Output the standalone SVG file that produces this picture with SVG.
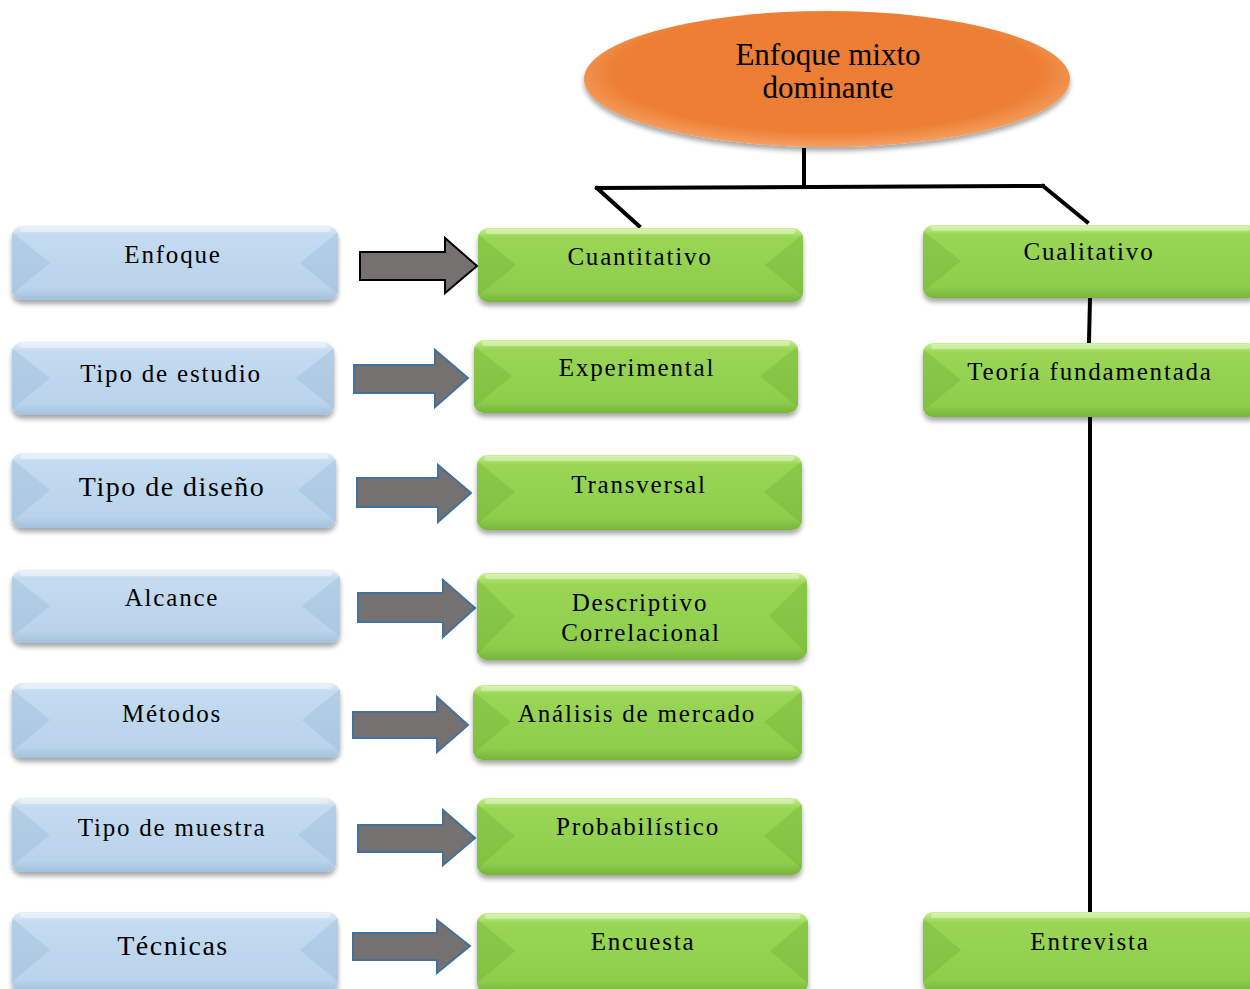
<svg xmlns="http://www.w3.org/2000/svg" width="1250" height="989" viewBox="0 0 1250 989">
  <style>
    text { font-family: "Liberation Serif", "Times New Roman", serif; fill: #000; text-anchor: middle; }
    .lbl { font-size: 25px; letter-spacing: 1.8px; }
    .big { font-size: 28px; letter-spacing: 1.5px; }
    .title { font-size: 31px; }
    .bbase { fill: url(#gBlue); filter: url(#shadow); }
    .gbase { fill: url(#gGreen); filter: url(#shadow); }
    .bside { fill: #8fb0d0; opacity: 0.3; }
    .gside { fill: #5f9f28; opacity: 0.25; }
    .hi { fill: #ffffff; opacity: 0.35; }
    .link { stroke: #000; stroke-width: 4; fill: none; stroke-linecap: square; }
    .arr1 { fill: #767171; stroke: #000; stroke-width: 2; }
    .arr { fill: #767171; stroke: #41719c; stroke-width: 2; }
  </style>
  <defs>
    <filter id="shadow" x="-10%" y="-20%" width="120%" height="160%">
      <feGaussianBlur in="SourceAlpha" stdDeviation="2.5"/>
      <feOffset dx="0" dy="4" result="b"/>
      <feComponentTransfer><feFuncA type="linear" slope="0.35"/></feComponentTransfer>
      <feMerge><feMergeNode/><feMergeNode in="SourceGraphic"/></feMerge>
    </filter>
    <linearGradient id="gBlue" x1="0" y1="0" x2="0" y2="1">
      <stop offset="0" stop-color="#e3eef8"/>
      <stop offset="0.12" stop-color="#c4dbf0"/>
      <stop offset="0.85" stop-color="#bad3eb"/>
      <stop offset="1" stop-color="#a3c0dc"/>
    </linearGradient>
    <linearGradient id="gGreen" x1="0" y1="0" x2="0" y2="1">
      <stop offset="0" stop-color="#c6f08e"/>
      <stop offset="0.13" stop-color="#99d655"/>
      <stop offset="0.85" stop-color="#8ecd4c"/>
      <stop offset="1" stop-color="#76b43a"/>
    </linearGradient>
    <radialGradient id="gOrange" cx="0.5" cy="0.45" r="0.55">
      <stop offset="0" stop-color="#ec7d33"/>
      <stop offset="0.8" stop-color="#ed7f34"/>
      <stop offset="1" stop-color="#f4a061"/>
    </radialGradient>
  </defs>

  <!-- connectors: tree lines and block arrows -->
  <g id="connectors">
    <path class="link" d="M804,150 V186 M597,188 L1043,186 M597,188 L639,226 M1043,186 L1087,222"/>
    <path class="link" d="M1090,299 L1089,341 M1090,418 V910"/>
    <polygon class="arr1" points="360,252 445,252 445,238 477,266 445,293 445,280 360,280"/>
    <polygon class="arr" points="354,365 435,365 435,350 468,378 435,407 435,393 354,393"/>
    <polygon class="arr" points="357,478 438,478 438,465 471,493 438,522 438,507 357,507"/>
    <polygon class="arr" points="358,593 443,593 443,580 475,608 443,637 443,622 358,622"/>
    <polygon class="arr" points="353,712 437,712 437,697 468,725 437,752 437,738 353,738"/>
    <polygon class="arr" points="358,825 443,825 443,810 475,838 443,865 443,852 358,852"/>
    <polygon class="arr" points="353,933 437,933 437,920 470,946 437,973 437,960 353,960"/>
  </g>

  <!-- root -->
  <g id="root">
    <ellipse cx="827" cy="79" rx="243" ry="68" fill="url(#gOrange)" filter="url(#shadow)"/>
    <text class="title" x="828" y="65">Enfoque mixto</text>
    <text class="title" x="828" y="98">dominante</text>
  </g>

  <!-- left column -->
  <g id="enfoque">
    <rect class="bbase" x="12" y="226" width="326" height="74" rx="10"/>
    <path class="bside" d="M12,232 L50,263 L12,294 Z M338,232 L300,263 L338,294 Z"/>
    <rect class="hi" x="20" y="227" width="310" height="5" rx="2"/>
    <text class="lbl" x="173" y="263">Enfoque</text>
  </g>
  <g id="tipo-estudio">
    <rect class="bbase" x="12" y="342" width="322" height="73" rx="10"/>
    <path class="bside" d="M12,348 L50,378 L12,409 Z M334,348 L296,378 L334,409 Z"/>
    <rect class="hi" x="20" y="343" width="306" height="5" rx="2"/>
    <text class="lbl" x="171" y="382">Tipo de estudio</text>
  </g>
  <g id="tipo-diseno">
    <rect class="bbase" x="12" y="453" width="324" height="75" rx="10"/>
    <path class="bside" d="M12,459 L50,490 L12,522 Z M336,459 L298,490 L336,522 Z"/>
    <rect class="hi" x="20" y="454" width="308" height="5" rx="2"/>
    <text class="big" x="172" y="496">Tipo de diseño</text>
  </g>
  <g id="alcance">
    <rect class="bbase" x="12" y="570" width="328" height="73" rx="10"/>
    <path class="bside" d="M12,576 L50,606 L12,637 Z M340,576 L302,606 L340,637 Z"/>
    <rect class="hi" x="20" y="571" width="312" height="5" rx="2"/>
    <text class="lbl" x="172" y="606">Alcance</text>
  </g>
  <g id="metodos">
    <rect class="bbase" x="12" y="683" width="328" height="75" rx="10"/>
    <path class="bside" d="M12,689 L50,720 L12,752 Z M340,689 L302,720 L340,752 Z"/>
    <rect class="hi" x="20" y="684" width="312" height="5" rx="2"/>
    <text class="lbl" x="172" y="722">Métodos</text>
  </g>
  <g id="tipo-muestra">
    <rect class="bbase" x="12" y="798" width="324" height="74" rx="10"/>
    <path class="bside" d="M12,804 L50,835 L12,866 Z M336,804 L298,835 L336,866 Z"/>
    <rect class="hi" x="20" y="799" width="308" height="5" rx="2"/>
    <text class="lbl" x="172" y="836">Tipo de muestra</text>
  </g>
  <g id="tecnicas">
    <rect class="bbase" x="12" y="912" width="326" height="80" rx="10"/>
    <path class="bside" d="M12,918 L50,950 L12,982 Z M338,918 L300,950 L338,982 Z"/>
    <rect class="hi" x="20" y="913" width="310" height="5" rx="2"/>
    <text class="big" x="173" y="955">Técnicas</text>
  </g>

  <!-- middle column -->
  <g id="cuantitativo">
    <rect class="gbase" x="478" y="228" width="325" height="74" rx="10"/>
    <path class="gside" d="M478,234 L516,265 L478,296 Z M803,234 L765,265 L803,296 Z"/>
    <rect class="hi" x="486" y="229" width="309" height="5" rx="2"/>
    <text class="lbl" x="640" y="265">Cuantitativo</text>
  </g>
  <g id="experimental">
    <rect class="gbase" x="474" y="340" width="324" height="73" rx="10"/>
    <path class="gside" d="M474,346 L512,376 L474,407 Z M798,346 L760,376 L798,407 Z"/>
    <rect class="hi" x="482" y="341" width="308" height="5" rx="2"/>
    <text class="lbl" x="637" y="376">Experimental</text>
  </g>
  <g id="transversal">
    <rect class="gbase" x="477" y="455" width="325" height="75" rx="10"/>
    <path class="gside" d="M477,461 L515,492 L477,524 Z M802,461 L764,492 L802,524 Z"/>
    <rect class="hi" x="485" y="456" width="309" height="5" rx="2"/>
    <text class="lbl" x="639" y="493">Transversal</text>
  </g>
  <g id="descriptivo">
    <rect class="gbase" x="477" y="573" width="330" height="87" rx="10"/>
    <path class="gside" d="M477,579 L515,616 L477,654 Z M807,579 L769,616 L807,654 Z"/>
    <rect class="hi" x="485" y="574" width="314" height="5" rx="2"/>
    <text class="lbl" x="640" y="611">Descriptivo</text>
    <text class="lbl" x="641" y="641">Correlacional</text>
  </g>
  <g id="analisis">
    <rect class="gbase" x="473" y="685" width="329" height="75" rx="10"/>
    <path class="gside" d="M473,691 L511,722 L473,754 Z M802,691 L764,722 L802,754 Z"/>
    <rect class="hi" x="481" y="686" width="313" height="5" rx="2"/>
    <text class="lbl" x="637" y="722">Análisis de mercado</text>
  </g>
  <g id="probabilistico">
    <rect class="gbase" x="477" y="798" width="325" height="77" rx="10"/>
    <path class="gside" d="M477,804 L515,836 L477,869 Z M802,804 L764,836 L802,869 Z"/>
    <rect class="hi" x="485" y="799" width="309" height="5" rx="2"/>
    <text class="lbl" x="638" y="835">Probabilístico</text>
  </g>
  <g id="encuesta">
    <rect class="gbase" x="477" y="913" width="331" height="80" rx="10"/>
    <path class="gside" d="M477,919 L515,951 L477,983 Z M808,919 L770,951 L808,983 Z"/>
    <rect class="hi" x="485" y="914" width="315" height="5" rx="2"/>
    <text class="lbl" x="643" y="950">Encuesta</text>
  </g>

  <!-- right column -->
  <g id="cualitativo">
    <rect class="gbase" x="923" y="225" width="335" height="73" rx="10"/>
    <path class="gside" d="M923,231 L961,261 L923,292 Z"/>
    <rect class="hi" x="931" y="226" width="319" height="5" rx="2"/>
    <text class="lbl" x="1089" y="260">Cualitativo</text>
  </g>
  <g id="teoria">
    <rect class="gbase" x="923" y="343" width="335" height="74" rx="10"/>
    <path class="gside" d="M923,349 L961,380 L923,411 Z"/>
    <rect class="hi" x="931" y="344" width="319" height="5" rx="2"/>
    <text class="lbl" x="1090" y="380">Teoría fundamentada</text>
  </g>
  <g id="entrevista">
    <rect class="gbase" x="923" y="912" width="335" height="80" rx="10"/>
    <path class="gside" d="M923,918 L961,950 L923,982 Z"/>
    <rect class="hi" x="931" y="913" width="319" height="5" rx="2"/>
    <text class="lbl" x="1090" y="950">Entrevista</text>
  </g>
</svg>
